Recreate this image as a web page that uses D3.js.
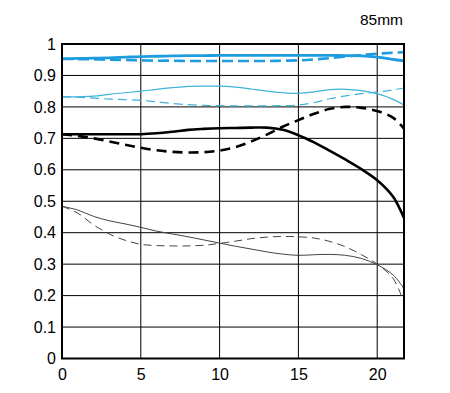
<!DOCTYPE html>
<html><head><meta charset="utf-8">
<script src="https://cdnjs.cloudflare.com/ajax/libs/d3/7.8.5/d3.min.js"></script>
<style>body{margin:0;background:#fff}svg{display:block}text{font-family:"Liberation Sans",Arial,sans-serif}</style>
</head><body><svg id="c" width="450" height="393"></svg>
<script>
const title = "85mm";
const xTicks = [0, 5, 10, 15, 20];
const yTicks = [0, 0.1, 0.2, 0.3, 0.4, 0.5, 0.6, 0.7, 0.8, 0.9, 1];
const xs = [0, 1, 2, 3, 4, 5, 6, 7, 8, 9, 10, 11, 12, 13, 14, 15, 16, 17, 18, 19, 20, 21, 21.7];
// 10 lp/mm
const thickSolid = [0.953,0.954,0.955,0.956,0.958,0.960,0.961,0.962,0.963,0.963,0.964,0.964,0.964,0.964,0.964,0.964,0.964,0.964,0.963,0.962,0.958,0.951,0.946];
const thickDashed = [0.953,0.952,0.951,0.950,0.949,0.948,0.947,0.947,0.946,0.946,0.946,0.946,0.946,0.946,0.947,0.948,0.951,0.955,0.960,0.965,0.969,0.972,0.974];
// 30 lp/mm
const thinSolidBlue = [0.832,0.832,0.834,0.840,0.845,0.850,0.856,0.861,0.865,0.866,0.866,0.863,0.857,0.850,0.845,0.843,0.848,0.855,0.856,0.852,0.842,0.824,0.806];
const thinDashedBlue = [0.832,0.831,0.828,0.825,0.823,0.821,0.816,0.811,0.807,0.805,0.804,0.803,0.803,0.803,0.804,0.806,0.814,0.826,0.835,0.842,0.847,0.854,0.860];
// black 10 lp/mm
const blackSolid = [0.713,0.713,0.713,0.713,0.713,0.713,0.716,0.721,0.727,0.730,0.732,0.733,0.734,0.734,0.727,0.710,0.687,0.660,0.632,0.602,0.567,0.515,0.447];
const blackDashed = [0.713,0.708,0.700,0.690,0.680,0.670,0.662,0.657,0.655,0.656,0.661,0.672,0.690,0.712,0.737,0.758,0.778,0.794,0.800,0.797,0.787,0.766,0.731];
// black 30 lp/mm
const greySolid = [0.484,0.472,0.452,0.438,0.428,0.417,0.405,0.396,0.387,0.377,0.367,0.357,0.348,0.339,0.332,0.328,0.330,0.331,0.328,0.318,0.298,0.266,0.222];
const greyDashed = [0.484,0.462,0.425,0.396,0.376,0.363,0.359,0.358,0.358,0.360,0.366,0.373,0.381,0.386,0.388,0.387,0.383,0.372,0.355,0.330,0.300,0.255,0.178];

const series = [
  {v: greySolid, color: "#444", w: 1, dash: null},
  {v: greyDashed, color: "#444", w: 1, dash: "8,5"},
  {v: thinDashedBlue, color: "#3fb2d8", w: 1.2, dash: "9,5"},
  {v: thinSolidBlue, color: "#3fb2d8", w: 1.2, dash: null},
  {v: blackDashed, color: "#000", w: 2.6, dash: "10,6"},
  {v: blackSolid, color: "#000", w: 2.6, dash: null},
  {v: thickDashed, color: "#1d9de0", w: 2.6, dash: "11,5"},
  {v: thickSolid, color: "#1d9de0", w: 2.8, dash: null}
];

const svg = d3.select("#c");
const L = 62, R = 404, T = 44, B = 358.5;
const x = d3.scaleLinear().domain([0, 21.7]).range([L, R]);
const y = d3.scaleLinear().domain([0, 1]).range([B, T]);

const g = svg.append("g");
g.selectAll(".gx").data(xTicks.filter(d => d > 0)).enter().append("line")
  .attr("x1", d => x(d)).attr("x2", d => x(d)).attr("y1", T).attr("y2", B)
  .attr("stroke", "#000").attr("stroke-width", 1);
g.selectAll(".gy").data(yTicks.filter(d => d > 0 && d < 1)).enter().append("line")
  .attr("x1", L).attr("x2", R).attr("y1", d => y(d)).attr("y2", d => y(d))
  .attr("stroke", "#000").attr("stroke-width", 1);

const line = d3.line().x((d, i) => x(xs[i])).y(d => y(d)).curve(d3.curveCatmullRom.alpha(0.5));
series.forEach(s => {
  g.append("path").attr("d", line(s.v)).attr("fill", "none")
    .attr("stroke", s.color).attr("stroke-width", s.w)
    .attr("stroke-dasharray", s.dash);
});

g.append("rect").attr("x", L).attr("y", T).attr("width", R - L).attr("height", B - T)
  .attr("fill", "none").attr("stroke", "#000").attr("stroke-width", 2);

const xAxis = d3.axisBottom(x).tickValues(xTicks).tickSize(0).tickPadding(10).tickFormat(d3.format("d"));
const ax = svg.append("g").attr("transform", `translate(0,${B})`).call(xAxis);
ax.select(".domain").remove();
ax.selectAll("text").attr("font-size", 16).attr("fill", "#000").style("font-family", '"Liberation Sans",Arial,sans-serif');

const yAxis = d3.axisLeft(y).tickValues(yTicks).tickSize(0).tickPadding(6).tickFormat(d => d === 0 || d === 1 ? String(d) : d3.format(".1f")(d));
const ay = svg.append("g").attr("transform", `translate(${L},0)`).call(yAxis);
ay.select(".domain").remove();
ay.selectAll("text").attr("font-size", 16).attr("fill", "#000").style("font-family", '"Liberation Sans",Arial,sans-serif');

svg.append("text").attr("x", 403).attr("y", 25).attr("text-anchor", "end")
  .attr("font-size", 15.5).attr("fill", "#000").text(title);
</script></body></html>
